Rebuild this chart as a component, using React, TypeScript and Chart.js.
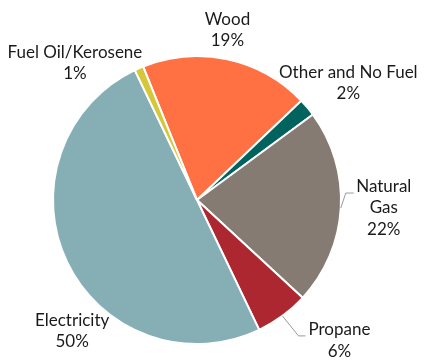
import React, { useEffect, useRef } from 'react';
import { Chart, registerables } from 'chart.js';

Chart.register(...registerables);

const categories = ['Wood', 'Other and No Fuel', 'Natural Gas', 'Propane', 'Electricity', 'Fuel Oil/Kerosene'];
const shares = [19, 2, 22, 6, 50, 1];
const labelLines = [['Wood'], ['Other and No Fuel'], ['Natural', 'Gas'], ['Propane'], ['Electricity'], ['Fuel Oil/Kerosene']];
const sliceColors = ['#FF7043', '#00635E', '#857B72', '#AD2731', '#86AFB5', '#D6C63A'];

// label placement relative to each slice's outer mid-point
const labelOffsets = [
  [0, -40],
  [41, -35],
  [43, -22],
  [57, 14],
  [5, 58],
  [-64, -16],
];
// leader line bends (relative to outer mid-point); null = none
const leaders: (number[][] | null)[] = [
  null,
  null,
  [[5, -15], [13, -15]],
  [[16, 20], [23, 20]],
  null,
  null,
];

const labelPlugin = {
  id: 'sliceLabels',
  afterDatasetsDraw(chart: any) {
    const ctx = chart.ctx;
    const meta = chart.getDatasetMeta(0);
    ctx.save();
    ctx.font = '17px Lato';
    ctx.fillStyle = '#1a1a1a';
    ctx.textAlign = 'center';
    ctx.textBaseline = 'middle';
    meta.data.forEach((arc: any, i: number) => {
      const mid = (arc.startAngle + arc.endAngle) / 2;
      const ox = arc.x + Math.cos(mid) * arc.outerRadius;
      const oy = arc.y + Math.sin(mid) * arc.outerRadius;
      const lead = leaders[i];
      if (lead) {
        ctx.strokeStyle = '#9a9a9a';
        ctx.lineWidth = 1;
        ctx.beginPath();
        ctx.moveTo(ox, oy);
        lead.forEach((p) => ctx.lineTo(ox + p[0], oy + p[1]));
        ctx.stroke();
      }
      const [dx, dy] = labelOffsets[i];
      const lines = [...labelLines[i], shares[i] + '%'];
      lines.forEach((t, k) => {
        ctx.fillText(t, ox + dx, oy + dy + k * 21.5);
      });
    });
    ctx.restore();
  },
};

export default function App() {
  const ref = useRef<HTMLCanvasElement>(null);
  useEffect(() => {
    document.body.style.margin = '0';
    const chart = new Chart(ref.current!, {
      type: 'pie',
      data: {
        labels: categories,
        datasets: [
          {
            data: shares,
            backgroundColor: sliceColors,
            borderColor: '#ffffff',
            borderWidth: 2,
          },
        ],
      },
      options: {
        responsive: false,
        maintainAspectRatio: false,
        animation: false,
        rotation: -22,
        layout: { padding: { top: 55, bottom: 18, left: 52, right: 85 } },
        plugins: {
          legend: { display: false },
          tooltip: { enabled: false },
        },
      },
      plugins: [labelPlugin],
    });
    return () => chart.destroy();
  }, []);
  return <canvas ref={ref} width={427} height={363} style={{ display: 'block' }} />;
}
